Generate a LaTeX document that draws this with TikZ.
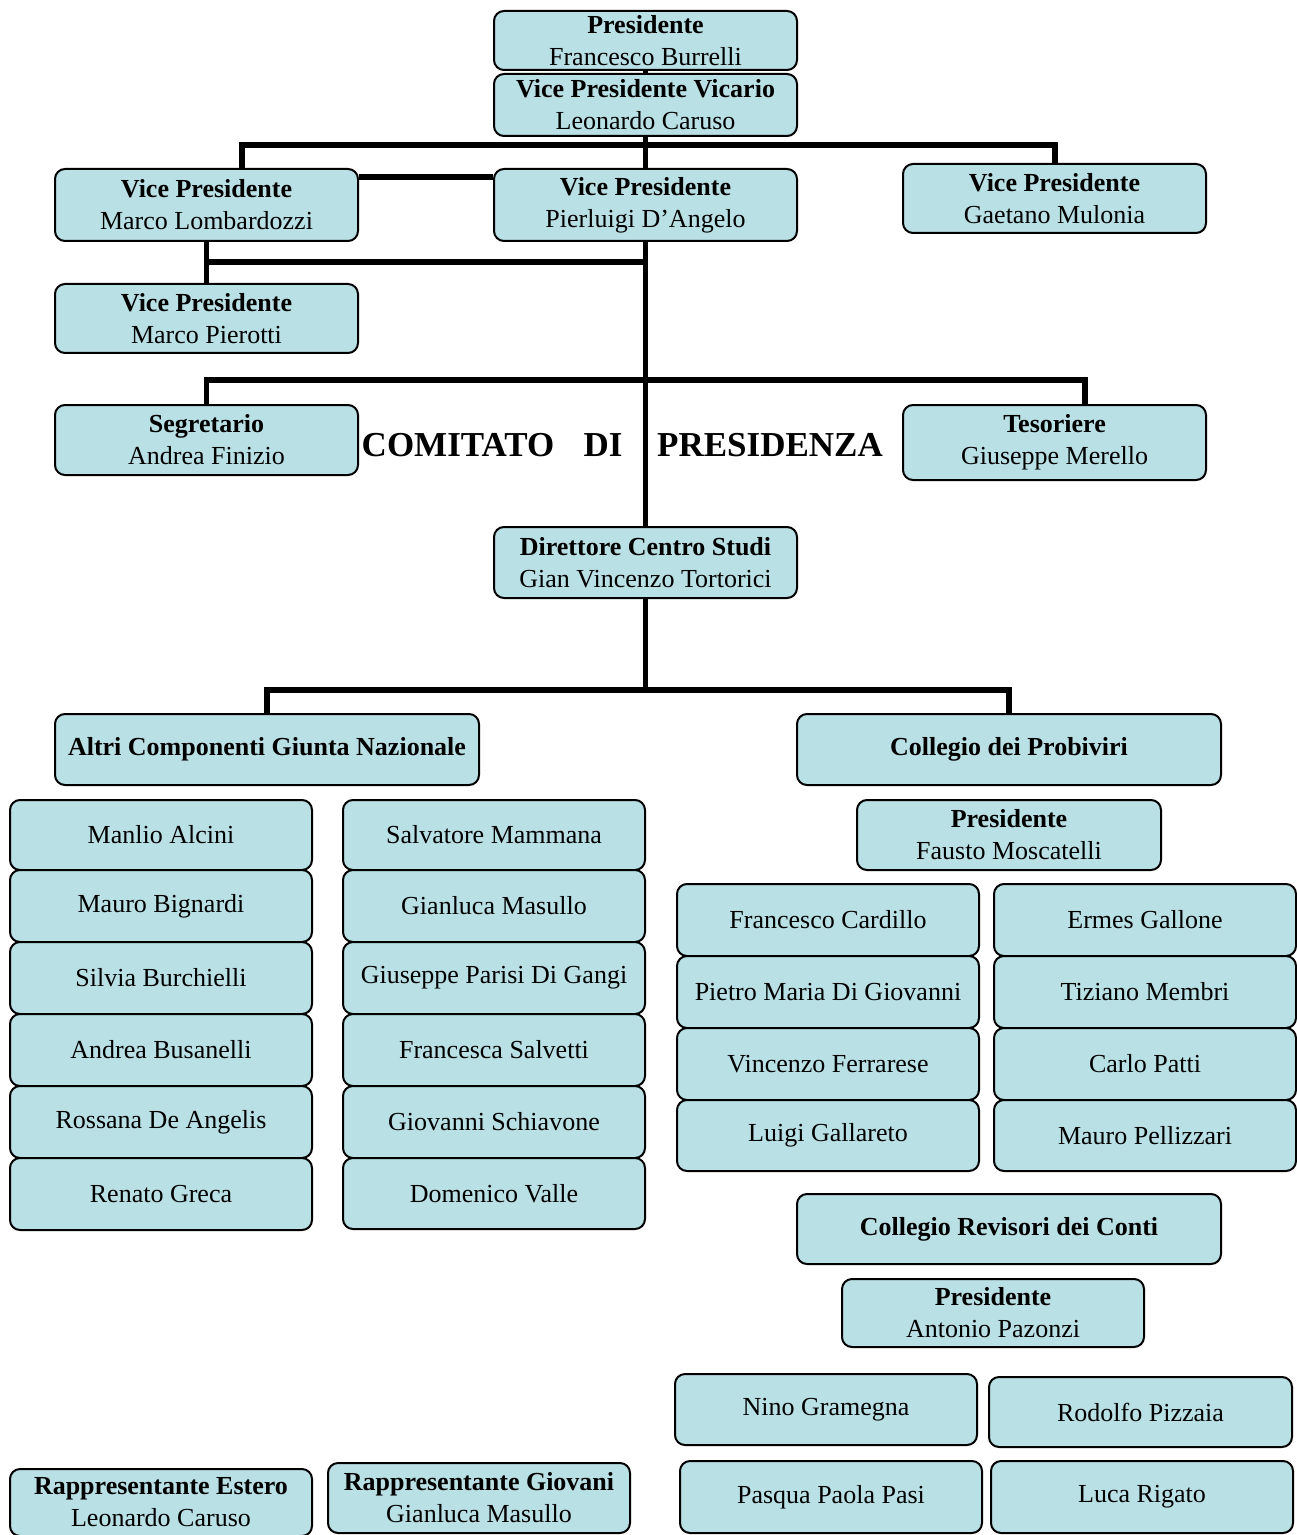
\documentclass[tikz,border=0pt]{standalone}
\usepackage{fontspec}
\setmainfont{Liberation Serif}
\definecolor{boxfill}{RGB}{185,224,228}
\pgfdeclarelayer{bg}
\pgfsetlayers{bg,main}
\tikzset{
  orgbox/.style={draw=black, line width=1pt, fill=boxfill, rounded corners=5pt,
    align=center, inner sep=0pt, font=\fontsize{13}{16}\selectfont},
  conn/.style={line width=2.6pt, line join=miter},
  titletext/.style={inner sep=0pt, font=\fontsize{17.5}{20}\selectfont\bfseries}
}
\newcommand\orgbox[6]{\node[orgbox, minimum width={(#4-#2)*0.5pt}, minimum height={(#5-#3)*0.5pt}] (#1) at ({(#2+#4)/2},{(#3+#5)/2}) {#6};}
\begin{document}
\begin{tikzpicture}[x=0.5pt,y=-0.5pt]
\useasboundingbox (0,0) rectangle (1296,1535);
% top
\orgbox{pres}{494}{11}{797}{70}{\textbf{Presidente}\\Francesco Burrelli}
\orgbox{vic}{494}{74}{797}{136}{\textbf{Vice Presidente Vicario}\\Leonardo Caruso}
\orgbox{vpl}{55}{169}{358}{241}{\textbf{Vice Presidente}\\Marco Lombardozzi}
\orgbox{vpd}{494}{169}{797}{241}{\textbf{Vice Presidente}\\Pierluigi D'Angelo}
\orgbox{vpm}{903}{164}{1206}{233}{\textbf{Vice Presidente}\\Gaetano Mulonia}
\orgbox{vpp}{55}{284}{358}{353}{\textbf{Vice Presidente}\\Marco Pierotti}
\orgbox{seg}{55}{405}{358}{475}{\textbf{Segretario}\\Andrea Finizio}
\orgbox{tes}{903}{405}{1206}{480}{\textbf{Tesoriere}\\Giuseppe Merello}
\node[titletext] (t1) at (458,445) {COMITATO};
\node[titletext] (t2) at (603,445) {DI};
\node[titletext] (t3) at (770,445) {PRESIDENZA};
\orgbox{dir}{494}{527}{797}{598}{\textbf{Direttore Centro Studi}\\Gian Vincenzo Tortorici}
\orgbox{altri}{55}{714}{479}{785}{\textbf{Altri Componenti Giunta Nazionale}}
\orgbox{prob}{797}{714}{1221}{785}{\textbf{Collegio dei Probiviri}}
\orgbox{probp}{857}{800}{1161}{870}{\textbf{Presidente}\\Fausto Moscatelli}
% Giunta columns
\orgbox{a1}{10}{800}{312}{870}{Manlio Alcini}
\orgbox{a2}{10}{870}{312}{942}{Mauro Bignardi}
\orgbox{a3}{10}{942}{312}{1014}{Silvia Burchielli}
\orgbox{a4}{10}{1014}{312}{1086}{Andrea Busanelli}
\orgbox{a5}{10}{1086}{312}{1158}{Rossana De Angelis}
\orgbox{a6}{10}{1158}{312}{1230}{Renato Greca}
\orgbox{b1}{343}{800}{645}{870}{Salvatore Mammana}
\orgbox{b2}{343}{870}{645}{942}{Gianluca Masullo}
\orgbox{b3}{343}{942}{645}{1014}{Giuseppe Parisi Di Gangi}
\orgbox{b4}{343}{1014}{645}{1086}{Francesca Salvetti}
\orgbox{b5}{343}{1086}{645}{1158}{Giovanni Schiavone}
\orgbox{b6}{343}{1158}{645}{1229}{Domenico Valle}
% Probiviri members
\orgbox{c1}{677}{884}{979}{956}{Francesco Cardillo}
\orgbox{c2}{677}{956}{979}{1028}{Pietro Maria Di Giovanni}
\orgbox{c3}{677}{1028}{979}{1100}{Vincenzo Ferrarese}
\orgbox{c4}{677}{1100}{979}{1171}{Luigi Gallareto}
\orgbox{d1}{994}{884}{1296}{956}{Ermes Gallone}
\orgbox{d2}{994}{956}{1296}{1028}{Tiziano Membri}
\orgbox{d3}{994}{1028}{1296}{1100}{Carlo Patti}
\orgbox{d4}{994}{1100}{1296}{1171}{Mauro Pellizzari}
% Revisori
\orgbox{rev}{797}{1194}{1221}{1264}{\textbf{Collegio Revisori dei Conti}}
\orgbox{revp}{842}{1279}{1144}{1347}{\textbf{Presidente}\\Antonio Pazonzi}
\orgbox{e1}{675}{1374}{977}{1445}{Nino Gramegna}
\orgbox{e2}{989}{1377}{1292}{1447}{Rodolfo Pizzaia}
\orgbox{e3}{680}{1461}{982}{1533}{Pasqua Paola Pasi}
\orgbox{e4}{991}{1461}{1293}{1533}{Luca Rigato}
% Rappresentanti
\orgbox{re}{10}{1469}{312}{1536}{\textbf{Rappresentante Estero}\\Leonardo Caruso}
\orgbox{rg}{328}{1463}{630}{1533}{\textbf{Rappresentante Giovani}\\Gianluca Masullo}
% connectors
\coordinate (h1l) at (242,145);
\coordinate (h1r) at (1055,145);
\coordinate (h2) at (0,177);
\coordinate (j2) at (646,262);
\coordinate (j3l) at (207,380);
\coordinate (j3r) at (1085,380);
\coordinate (j4) at (646,690);
\begin{pgfonlayer}{bg}
\draw[conn] (pres.south) -- (vic.north);
\draw[conn] (vic.south) -- (dir.north);
\draw[conn] (vpl.north -| h1l) -- (h1l) -- (h1r) -- (vpm.north -| h1r);
\draw[conn] (vpl.east |- h2) -- (vpd.west |- h2);
\draw[conn] (vpl.south) -- (vpp.north);
\draw[conn] (j2) -- (j2 -| vpl.south);
\draw[conn] (seg.north) -- (seg.north |- j3l) -- (j3r) -- (tes.north -| j3r);
\draw[conn] (dir.south) -- (dir.south |- j4);
\draw[conn] (altri.north) |- (prob.north |- j4) -- (prob.north);
\end{pgfonlayer}
\end{tikzpicture}
\end{document}
